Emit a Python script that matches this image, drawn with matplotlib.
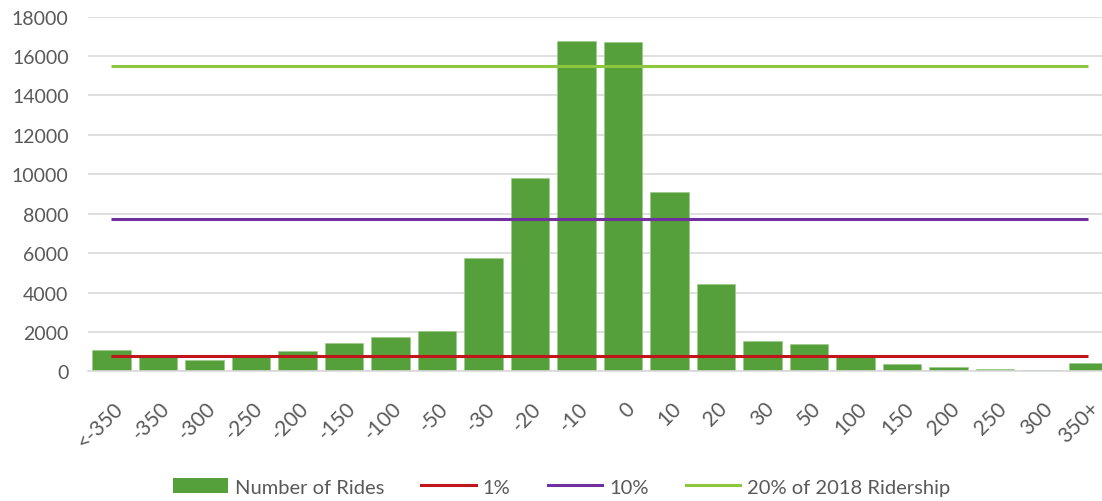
import matplotlib.pyplot as plt
from matplotlib.patches import Patch
from matplotlib.lines import Line2D
from matplotlib.transforms import ScaledTranslation

# ride-count change buckets and number of rides in each
buckets = ["<-350", "-350", "-300", "-250", "-200", "-150", "-100", "-50", "-30", "-20",
           "-10", "0", "10", "20", "30", "50", "100", "150", "200", "250", "300", "350+"]
rides = [1075, 720, 600, 790, 1060, 1420, 1740, 2030, 5760, 9800,
         16760, 16730, 9090, 4420, 1560, 1410, 780, 380, 210, 135, 100, 445]

# reference thresholds
one_pct = 770
ten_pct = 7750
twenty_pct_2018 = 15490

bar_color = "#55A03A"
text_color = "#595959"
grid_color = "#D9D9D9"

plt.rcParams["font.family"] = ["Lato", "DejaVu Sans"]

fig = plt.figure(figsize=(11.02, 5.02), dpi=100)
ax = fig.add_axes([0.0799, 0.258, 0.9285, 0.707])

x = list(range(len(buckets)))
ax.bar(x, rides, width=0.83, color=bar_color, edgecolor="#9CCB86", linewidth=0.5, zorder=2)

last = len(buckets) - 1
ax.hlines(one_pct, 0, last, color="#C0161B", linewidth=2.2, zorder=3)
ax.hlines(ten_pct, 0, last, color="#7030A0", linewidth=2.2, zorder=3)
ax.hlines(twenty_pct_2018, 0, last, color="#8DC63F", linewidth=2.2, zorder=3)

ax.set_xlim(-0.5, last + 0.5)
ax.set_ylim(0, 18000)
ax.set_yticks(range(0, 18001, 2000))
ax.yaxis.grid(True, color=grid_color, linewidth=1.2, zorder=0)
ax.set_axisbelow(True)

ax.set_xticks(x)
ax.set_xticklabels(buckets, rotation=45, ha="right", va="center", rotation_mode="anchor")
ax.tick_params(axis="both", length=0, labelsize=14, labelcolor=text_color)
ax.tick_params(axis="x", pad=24, labelsize=15)
ax.tick_params(axis="y", pad=14)

# nudge the slanted labels a little to the right of their ticks
nudge = ScaledTranslation(6 / 72, 0, fig.dpi_scale_trans)
for label in ax.get_xticklabels():
    label.set_transform(label.get_transform() + nudge)

for side in ["top", "right", "left"]:
    ax.spines[side].set_visible(False)
ax.spines["bottom"].set_color(grid_color)
ax.spines["bottom"].set_linewidth(1.2)

handles = [
    Patch(facecolor=bar_color, label="Number of Rides"),
    Line2D([], [], color="#C0161B", linewidth=2.2, label="1%"),
    Line2D([], [], color="#7030A0", linewidth=2.2, label="10%"),
    Line2D([], [], color="#8DC63F", linewidth=2.2, label="20% of 2018 Ridership"),
]
fig.legend(handles=handles, loc="center", bbox_to_anchor=(0.51, 0.028), ncol=4,
           frameon=False, fontsize=14.5, labelcolor=text_color, handlelength=2.7,
           handleheight=0.75, handletextpad=0.35, columnspacing=1.85)

fig.savefig("out.png", dpi=100)
